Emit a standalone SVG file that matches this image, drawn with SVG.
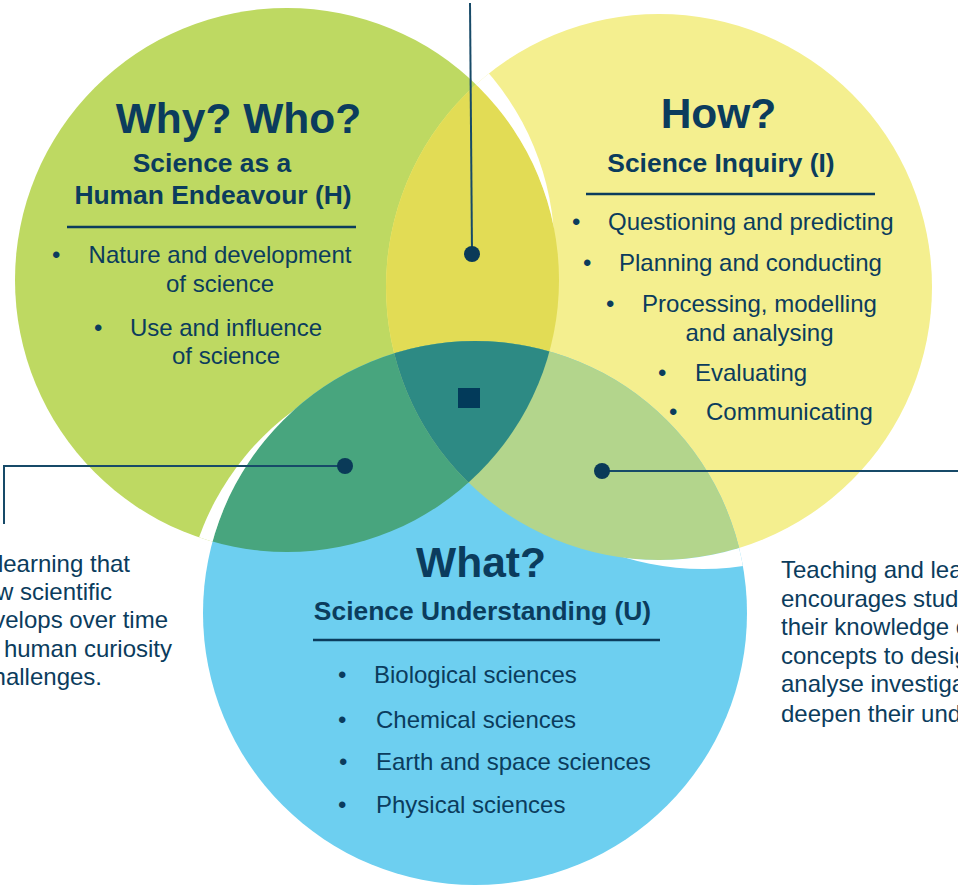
<svg xmlns="http://www.w3.org/2000/svg" width="958" height="887" viewBox="0 0 958 887">
  <style>
    text { font-family: "Liberation Sans", Arial, sans-serif; fill: #0b3c5d; }
    .h1 { font-size: 42.5px; font-weight: bold; text-anchor: middle; }
    .h2 { font-size: 26.4px; font-weight: bold; text-anchor: middle; }
    .it { font-size: 24px; }
    .mid { text-anchor: middle; }
    .end { text-anchor: end; }
    .rule { stroke: #0b3c5d; stroke-width: 2.5; fill: none; }
    .conn { stroke: #174a68; stroke-width: 2; fill: none; }
    .dot { fill: #0a3a58; }
  </style>
  <defs>
    <clipPath id="clipG"><circle cx="287" cy="280" r="272"/></clipPath>
    <clipPath id="clipY"><circle cx="659" cy="287" r="273"/></clipPath>
    <mask id="mYnotG" maskUnits="userSpaceOnUse" x="0" y="0" width="958" height="887">
      <circle cx="659" cy="287" r="273" fill="#fff"/>
      <circle cx="287" cy="280" r="272" fill="#000"/>
    </mask>
    <mask id="mGnotB" maskUnits="userSpaceOnUse" x="0" y="0" width="958" height="887">
      <circle cx="287" cy="280" r="272" fill="#fff"/>
      <circle cx="475" cy="613" r="272" fill="#000"/>
    </mask>
    <mask id="mBnotY" maskUnits="userSpaceOnUse" x="0" y="0" width="958" height="887">
      <circle cx="475" cy="613" r="272" fill="#fff"/>
      <circle cx="659" cy="287" r="273" fill="#000"/>
    </mask>
  </defs>
  <rect width="958" height="887" fill="#fff"/>

  <g id="node-human-endeavour">
    <circle cx="287" cy="280" r="272" fill="#bed962"/>
  </g>
  <g id="node-inquiry">
    <circle cx="659" cy="287" r="273" fill="#f4ef8f"/>
  </g>
  <g id="node-understanding">
    <circle cx="475" cy="613" r="272" fill="#6dcff0"/>
  </g>

  <g id="overlaps">
    <circle cx="659" cy="287" r="273" fill="#e2dc55" clip-path="url(#clipG)"/>
    <circle cx="475" cy="613" r="272" fill="#48a57e" clip-path="url(#clipG)"/>
    <circle cx="475" cy="613" r="272" fill="#b3d58c" clip-path="url(#clipY)"/>
    <g clip-path="url(#clipG)">
      <circle cx="475" cy="613" r="272" fill="#2d8a84" clip-path="url(#clipY)"/>
    </g>
    <circle cx="282.5" cy="250.5" r="272" fill="#fff" mask="url(#mYnotG)"/>
    <circle cx="455" cy="629.3" r="272" fill="#fff" mask="url(#mGnotB)"/>
    <circle cx="702.9" cy="296" r="273" fill="#fff" mask="url(#mBnotY)"/>
  </g>

  <g id="label-human-endeavour">
    <text class="h1" x="238.5" y="133">Why? Who?</text>
    <text class="h2" x="212" y="172">Science as a</text>
    <text class="h2" x="213" y="204">Human Endeavour (H)</text>
    <line class="rule" x1="67" y1="227" x2="356" y2="227"/>
    <text class="it" x="52" y="263">•</text>
    <text class="it mid" x="220" y="263">Nature and development</text>
    <text class="it mid" x="220" y="292">of science</text>
    <text class="it" x="94" y="336">•</text>
    <text class="it mid" x="226" y="336">Use and influence</text>
    <text class="it mid" x="226" y="364">of science</text>
  </g>

  <g id="label-inquiry">
    <text class="h1" x="718.5" y="128">How?</text>
    <text class="h2" x="721" y="172">Science Inquiry (I)</text>
    <line class="rule" x1="586" y1="194" x2="875" y2="194"/>
    <text class="it" x="572" y="230">•</text>
    <text class="it" x="608" y="230">Questioning and predicting</text>
    <text class="it" x="583" y="271">•</text>
    <text class="it" x="619" y="271">Planning and conducting</text>
    <text class="it" x="606" y="312">•</text>
    <text class="it mid" x="759.5" y="312">Processing, modelling</text>
    <text class="it mid" x="759.5" y="341">and analysing</text>
    <text class="it" x="658" y="381">•</text>
    <text class="it" x="695" y="381">Evaluating</text>
    <text class="it" x="669" y="420">•</text>
    <text class="it" x="706" y="420">Communicating</text>
  </g>

  <g id="label-understanding">
    <text class="h1" x="481" y="577">What?</text>
    <text class="h2" x="482.5" y="620">Science Understanding (U)</text>
    <line class="rule" x1="313" y1="640" x2="660" y2="640"/>
    <text class="it" x="338" y="683">•</text>
    <text class="it" x="374" y="683">Biological sciences</text>
    <text class="it" x="338" y="728">•</text>
    <text class="it" x="376" y="728">Chemical sciences</text>
    <text class="it" x="339" y="770">•</text>
    <text class="it" x="376" y="770">Earth and space sciences</text>
    <text class="it" x="338" y="813">•</text>
    <text class="it" x="376" y="813">Physical sciences</text>
  </g>

  <g id="connectors">
    <path class="conn" d="M470,3 L472,254"/>
    <circle class="dot" cx="472" cy="254" r="8"/>
    <path class="conn" d="M345,466 H4 V524"/>
    <circle class="dot" cx="345" cy="466" r="8"/>
    <path class="conn" d="M602,471 H958"/>
    <circle class="dot" cx="602" cy="471" r="8"/>
    <rect x="458" y="388" width="22" height="20" fill="#023a5a"/>
  </g>

  <g id="annotation-left">
    <text class="it end" x="130" y="572">learning that</text>
    <text class="it end" x="112" y="600">w scientific</text>
    <text class="it end" x="168" y="628">velops over time</text>
    <text class="it end" x="172" y="657">human curiosity</text>
    <text class="it end" x="102" y="685">hallenges.</text>
  </g>

  <g id="annotation-right">
    <text class="it" x="781" y="578">Teaching and lea</text>
    <text class="it" x="781" y="607">encourages stud</text>
    <text class="it" x="781" y="635">their knowledge o</text>
    <text class="it" x="781" y="664">concepts to desig</text>
    <text class="it" x="781" y="692">analyse investiga</text>
    <text class="it" x="781" y="722">deepen their und</text>
  </g>
</svg>
